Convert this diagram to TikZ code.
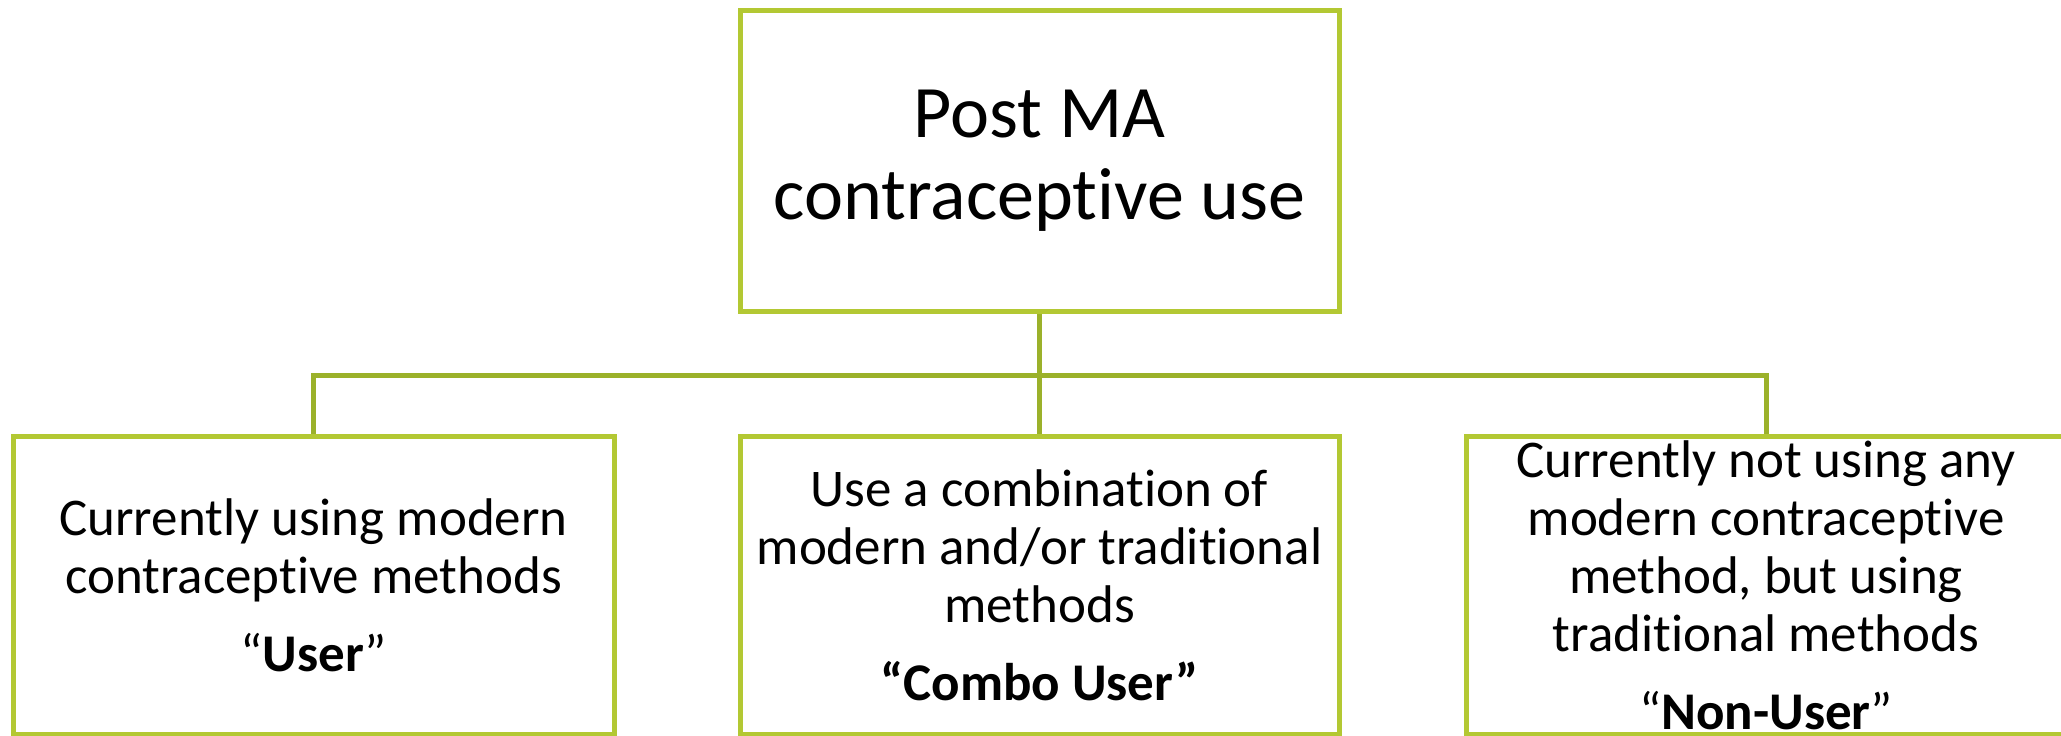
\documentclass[tikz,border=0pt]{standalone}
\usepackage{fontspec}
\setmainfont{Carlito}[Ligatures=NoCommon]
\definecolor{boxgreen}{RGB}{179,200,51}
\definecolor{linegreen}{RGB}{155,177,42}
\begin{document}
\begin{tikzpicture}[x=1pt,y=-1pt,
  box/.style={draw=boxgreen,line width=5pt,rectangle,inner sep=0pt,minimum width=#1,minimum height=298pt},
  conn/.style={draw=linegreen,line width=5pt},
  bigtext/.style={font=\fontsize{74}{82}\selectfont,align=center,inner sep=0pt},
  smalltext/.style={font=\fontsize{53}{58}\selectfont,align=center,inner sep=0pt}]
\useasboundingbox (0,0) rectangle (2061,736);
\fill[white] (0,0) rectangle (2061,736);
\node[box=599pt,minimum height=301pt] (top) at (1039.5,161) {};
\node[box=601pt] (left) at (313.5,585) {};
\node[box=599pt] (mid) at (1039.5,585) {};
\node[box=600pt] (right) at (1766,585) {};
\coordinate (bus) at (1039.5,375);
\draw[conn] (top.south) -- (mid.north);
\draw[conn] (left.north) -- (left.north |- bus) -- (right.north |- bus) -- (right.north);
\node[bigtext] (ttop) at (top.center) {Post MA\\contraceptive use};
\node[smalltext] (tleft) at (left.center) {Currently using modern\\contraceptive methods\\[20pt]“\textbf{User}”};
\node[smalltext] (tmid) at (mid.center) {Use a combination of\\modern and/or traditional\\methods\\[20pt]\textbf{“Combo User”}};
\node[smalltext] (tright) at (right.center) {Currently not using any\\modern contraceptive\\method, but using\\traditional methods\\[20pt]“\textbf{Non-User}”};
\end{tikzpicture}
\end{document}
